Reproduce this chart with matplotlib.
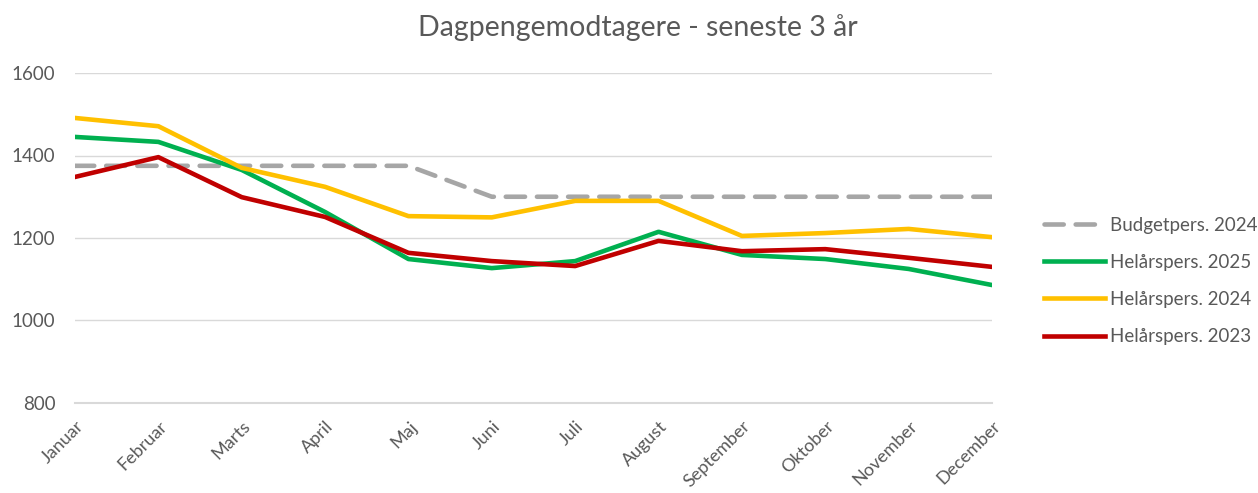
import matplotlib
matplotlib.use("Agg")
import matplotlib.pyplot as plt
from matplotlib.transforms import ScaledTranslation

months = ["Januar", "Februar", "Marts", "April", "Maj", "Juni", "Juli",
          "August", "September", "Oktober", "November", "December"]
budget_2024 = [1375, 1375, 1375, 1375, 1375, 1300, 1300, 1300, 1300, 1300, 1300, 1300]
hel_2025 = [1445, 1433, 1365, 1263, 1149, 1127, 1144, 1215, 1159, 1149, 1125, 1086]
hel_2024 = [1491, 1471, 1370, 1324, 1253, 1250, 1290, 1290, 1205, 1212, 1222, 1202]
hel_2023 = [1348, 1396, 1299, 1251, 1164, 1144, 1132, 1193, 1168, 1173, 1152, 1130]
yticks = [800, 1000, 1200, 1400, 1600]

plt.rcParams['font.family'] = ['Lato', 'DejaVu Sans']

fig = plt.figure(figsize=(12.58, 4.93), dpi=100)
ax = fig.add_axes([75/1258, 1-403/493, (992-75)/1258, (403-73)/493])

x = list(range(len(months)))
ax.plot(x, budget_2024, color="#A6A6A6", lw=3.3, ls=(0, (4.2, 2.6)), label="Budgetpers. 2024",
        dash_capstyle='round')
ax.plot(x, hel_2025, color="#00B050", lw=3.3, label="Helårspers. 2025")
ax.plot(x, hel_2024, color="#FFC000", lw=3.3, label="Helårspers. 2024")
ax.plot(x, hel_2023, color="#C00000", lw=3.3, label="Helårspers. 2023")

ax.set_xlim(0, 11)
ax.set_ylim(800, 1600)
ax.set_yticks(yticks)
ax.set_yticklabels([str(v) for v in yticks], fontsize=13.5, color="#595959")
ax.set_xticks(x)
ax.set_xticklabels(months, rotation=45, ha="right", va="center", rotation_mode="anchor",
                   fontsize=13, color="#595959")
ax.tick_params(axis='y', length=0, pad=14)
ax.tick_params(axis='x', length=0, pad=15)
off = ScaledTranslation(6/100, 0, fig.dpi_scale_trans)
for lbl in ax.get_xticklabels():
    lbl.set_transform(lbl.get_transform() + off)
ax.grid(axis='y', color="#D9D9D9", lw=1)
ax.set_axisbelow(True)
for s in ["top", "right", "left"]:
    ax.spines[s].set_visible(False)
ax.spines["bottom"].set_color("#D9D9D9")
ax.spines["bottom"].set_linewidth(1.5)

fig.text(638/1258, 1-28/493, "Dagpengemodtagere - seneste 3 år", ha="center", va="center",
         fontsize=20.5, color="#595959")

leg = fig.legend(loc="upper left", bbox_to_anchor=(1036/1258, 1-209/493), frameon=False,
                 fontsize=13.5, labelcolor="#595959", handlelength=3.3, handletextpad=0.27,
                 labelspacing=1.08, borderaxespad=0)

fig.savefig("out.png", dpi=100)
